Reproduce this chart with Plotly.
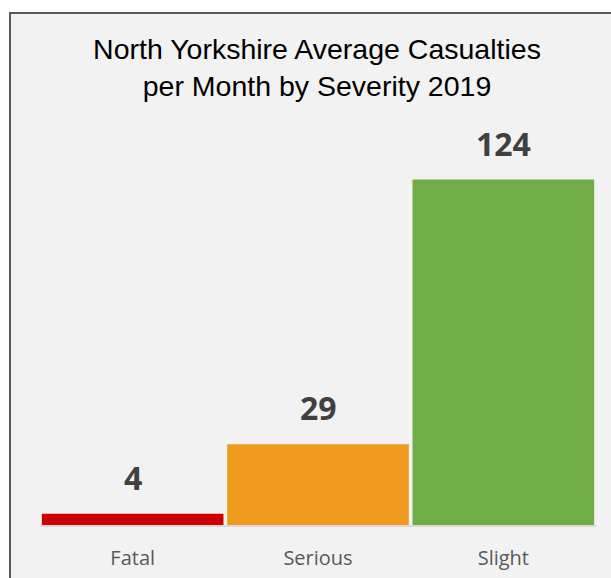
import plotly.graph_objects as go

categories = ["Fatal", "Serious", "Slight"]
values = [4, 29, 124]
colors = ["#CC0000", "#EE9A1C", "#70AD47"]

W, H = 611, 578
L, R, T, B = 40, 15, 135, 53
pw, ph = W - L - R, H - T - B

def px_x(p):
    return (p - L) / pw

def px_y(p):
    return (H - B - p) / ph

fig = go.Figure()
fig.add_trace(go.Bar(
    x=categories, y=values, marker=dict(color=colors, line=dict(width=0)),
    hoverinfo="skip", showlegend=False,
))

for c, v in zip(categories, values):
    fig.add_annotation(
        x=c, y=v, xref="x", yref="y", text=str(v), showarrow=False,
        yanchor="bottom", yshift=13,
        font=dict(family="Open Sans, sans-serif", size=32, color="#404040", weight="bold"),
    )

fig.add_shape(
    type="rect", xref="paper", yref="paper", layer="below",
    x0=px_x(10), x1=px_x(640), y0=px_y(600), y1=px_y(13),
    fillcolor="#F2F2F2", line=dict(color="#595959", width=2),
)

fig.update_layout(
    width=W, height=H,
    margin=dict(l=L, r=R, t=T, b=B, pad=0, autoexpand=False),
    paper_bgcolor="white", plot_bgcolor="rgba(0,0,0,0)",
    bargap=0.02,
    title=dict(
        text="North Yorkshire Average Casualties<br>per Month by Severity 2019",
        x=px_x(317), xanchor="center", xref="paper",
        y=1 - 59 / H, yanchor="middle",
        font=dict(family="Liberation Sans, Arial, sans-serif", size=28.5, color="#000000"),
        automargin=False,
    ),
    xaxis=dict(
        showline=True, linecolor="#D9D9D9", linewidth=2,
        ticks="", showgrid=False, automargin=False,
        tickfont=dict(family="Open Sans, sans-serif", size=20, color="#595959"),
        ticklabelstandoff=14,
    ),
    yaxis=dict(visible=False, range=[0, 140], showgrid=False, zeroline=False, automargin=False),
)

fig.write_html("out.html")
